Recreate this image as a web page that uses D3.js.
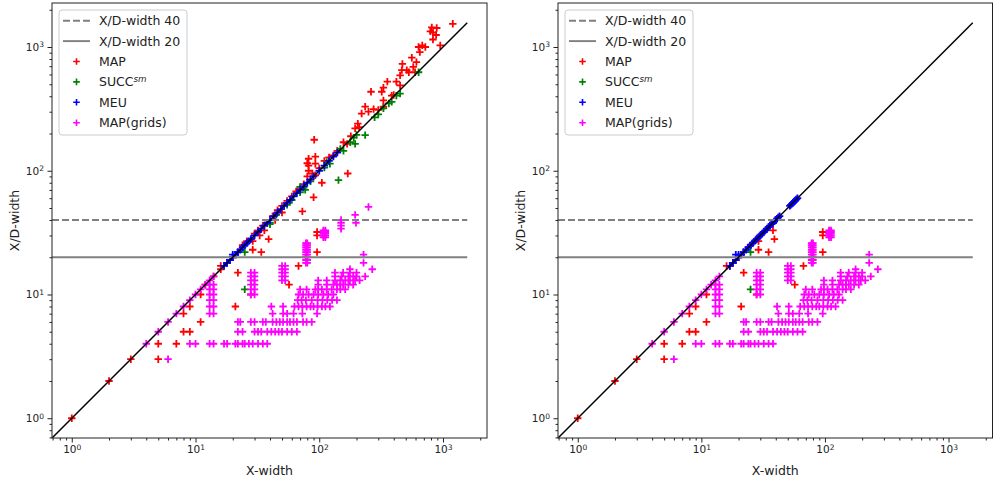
<!DOCTYPE html>
<html>
<head>
<meta charset="utf-8">
<script src="https://cdn.jsdelivr.net/npm/d3@7"></script>
<style>
  body { margin: 0; background: #fff; }
  svg { font-family: "DejaVu Sans", sans-serif; }
</style>
</head>
<body>
<script>
// ---- data ----
const decades = [1, 10, 100, 1000];
const thresholds = [40, 20];      // dashed, solid
const lineMax = 1570;             // end of the reference lines
const legendLabels = ["X/D-width 40", "X/D-width 20", "MAP", "SUCC", "MEU", "MAP(grids)"];

// left panel
const leftMap = [[1,1],[2,2],[3,3],[5,3],[5,4],[7,4],[8,5],[9,5],[8,7],[9,8],[11,6],[11,10],[12,12],[14,14],
  [16,16],[16,17],[18,18],[20,20],[21,8],[22,15],[22,22],[24,25],[26,27],[28,10],[28,28],[29,23],[29,27],
  [30,31],[32,33],[33,30],[34,22],[35,36],[36,33],[38,38],[39,28],[42,43],[44,40],[46,48],[50,52],[50,46],
  [55,57],[57,12],[60,62],[65,68],[68,17],[70,72],[73,47],[75,78],[80,90],[82,100],[82,110],[80,115],[82,125],
  [88,95],[90,61],[91,178],[93,92],[93,114],[93,130],[96,22],[96,30],[96,32],[100,105],[105,80],[110,120],
  [120,128],[130,133],[140,145],[157,170],[168,165],[170,95],[180,190],[195,220],[205,240],[210,225],[220,290],
  [235,330],[250,300],[262,435],[275,315],[300,310],[320,435],[330,330],[330,370],[330,470],[355,525],[385,405],
  [400,410],[420,525],[450,490],[450,590],[465,650],[470,730],[510,650],[530,625],[560,820],[575,690],[595,625],
  [610,755],[635,1000],[650,910],[680,1030],[720,1000],[790,1340],[812,1440],[830,1150],[830,1310],[880,1250],
  [890,1425],[950,1030],[1200,1540]];
const leftSucc = [[25,11],[25,22],[40,37],[40,38],[45,44],[55,53],[60,58],[70,67],[70,74],[75,73],[77,70],
  [85,82],[110,106],[115,117],[122,114],[143,84],[148,150],[157,145],[178,170],[190,185],[195,165],[200,195],
  [235,194],[280,270],[300,285],[330,320],[365,350],[385,360],[420,405],[450,420],[635,625]];
const leftMeu = [[17,17],[18,18],[19,19],[20,20],[20,21],[21,21],[22,22],[23,23],[24,24],[25,25],[26,26],
  [27,27],[28,28],[30,30],[32,32],[34,34],[36,36],[38,38],[40,40],[43,43],[46,46],[49,49],[52,52],[55,55],
  [58,58],[62,62],[66,66],[70,70],[75,75],[80,80],[85,85],[90,90],[100,100],[110,110],[120,120],[130,130],[140,140]];
const leftGridExtra = [[150,34],[150,36],[150,38],[150,40],[195,44],[198,38],[250,51]];

// right panel
const rightMap = [[1,1],[2,2],[3,3],[5,3],[5,4],[7,4],[8,5],[9,5],[8,7],[9,8],[11,6],[11,10],[16,17],[17,17],
  [18,18],[20,20],[21,8],[22,15],[22,22],[24,24],[26,26],[28,10],[28,28],[29,23],[29,27],[30,30],[32,32],
  [35,22],[35,35],[38,33],[39,28],[38,38],[40,40],[42,42],[57,12],[67,17],[96,22],[96,30],[96,32]];
const rightSucc = [[25,22],[25,11]];
const rightMeu = [[17,17],[18,18],[19,19],[19,21],[20,20],[20,21],[21,21],[22,22],[23,23],[24,24],[25,25],
  [26,26],[27,27],[28,28],[29,29],[30,30],[31,31],[32,32],[33,33],[34,34],[35,35],[36,36],[37,37],[38,38],
  [39,39],[40,40],[41,41],[42,42],[43,43],[52,52],[53,53],[54,54],[55,55],[56,56],[57,57],[58,58],[59,59],[60,60]];

// MAP(grids), same in both panels: rows [y, xs] and columns [x, ys]
const gridDiagonal = [4,5,6,7,8,9,10,11,12,13,14];
const gridRows = [
  [3, [6]],
  [4, [9,10,13,14,17,18,21,22,24,25,27,29,32,35,38]],
  [5, [22,24,30,32,34,38,41,44,47,50,55,60,66]],
  [6, [22,23,28,30,35,37,42,45,48,51,55,58,62,66,74,79,87]],
  [7, [42,51,55,62,73,96]],
  [8, [41,51,63,68,73,79,85,90,97,105,112,122]],
  [9, [67,72,78,87,97,106,116,127,139]],
  [10, [68,74,82,90,98,108,118,130]],
  [11, [70,79,93,98,105,115,126,139,148,162]],
  [12, [98,115,130,139,148,156,172,188]],
  [13, [98,115,134,148,162,177,195,212]],
  [14, [134,152,172,188,200,235]],
  [15, [134,156,177,200]],
  [16, [177,268]],
  [18, [228]],
  [21, [228]]
];
const gridColumns = [
  [13, [7,8,9,10,11,12]],
  [14, [7,8,9,10,11,12]],
  [28, [10,11,12,13,14,15]],
  [30, [10,11,12,13,14,15]],
  [50, [13,14,15,16,17]],
  [53, [13,14,15,16,17]],
  [78, [18,19,20,21,22,23,24,25,26]],
  [80, [18,19,20,21,22,23,24,25,26]],
  [108, [29,30,31,32,33]],
  [112, [29,30,31,32,33]]
];

// ---- layout ----
const width = 993, height = 482;
const plotSize = 435, plotTop = 3;
const colors = { map: "#ff0000", succ: "#008000", meu: "#0000ff", grid: "#ff00ff" };

const gridPoints = gridDiagonal.map(v => [v, v])
  .concat(gridRows.flatMap(([yv, xs]) => xs.map(xv => [xv, yv])))
  .concat(gridColumns.flatMap(([xv, ys]) => ys.map(yv => [xv, yv])));

// matplotlib-like 5% margins in log space around [1, lineMax]
const span = Math.log10(lineMax);
const lo = Math.pow(10, -0.05 * span), hi = Math.pow(10, span * 1.05);
const minorTicks = [0.1, 1, 10, 100, 1000].flatMap(d => [2,3,4,5,6,7,8,9].map(k => k * d))
  .filter(v => v > lo && v < hi);

const svg = d3.select("body").append("svg")
  .attr("width", width)
  .attr("height", height);

function plus(s) { return `M${-s},0H${s}M0,${-s}V${s}`; }

function drawPanel(x0, rangeRight, series) {
  const x = d3.scaleLog().domain([lo, hi]).range([x0, rangeRight]);
  const y = d3.scaleLog().domain([lo, hi]).range([plotTop + plotSize, plotTop]);
  const g = svg.append("g");

  const clipId = "clip" + x0;
  svg.append("clipPath").attr("id", clipId).append("rect")
    .attr("x", x0).attr("y", plotTop).attr("width", rangeRight - x0).attr("height", plotSize);
  const plot = g.append("g").attr("clip-path", `url(#${clipId})`);

  // scatter
  series.forEach(s => {
    plot.append("g").selectAll("path")
      .data(s.data)
      .join("path")
      .attr("d", plus(3.7))
      .attr("transform", d => `translate(${x(d[0])},${y(d[1])})`)
      .attr("fill", "none")
      .attr("stroke", s.color)
      .attr("stroke-width", 1.8);
  });

  // threshold lines
  thresholds.forEach((t, i) => {
    plot.append("line")
      .attr("x1", x(lo)).attr("x2", x(lineMax))
      .attr("y1", y(t)).attr("y2", y(t))
      .attr("stroke", "#808080")
      .attr("stroke-width", 1.9)
      .attr("stroke-dasharray", i === 0 ? "7,3" : null);
  });

  // diagonal
  plot.append("line")
    .attr("x1", x(lo)).attr("y1", y(lo))
    .attr("x2", x(lineMax)).attr("y2", y(lineMax))
    .attr("stroke", "#000")
    .attr("stroke-width", 1.5);

  // axes
  const gx = g.append("g").attr("transform", `translate(0,${plotTop + plotSize})`)
    .call(d3.axisBottom(x).tickValues(decades).tickSize(4.5).tickPadding(3.5).tickFormat(() => "10"));
  g.append("g").attr("transform", `translate(0,${plotTop + plotSize})`)
    .call(d3.axisBottom(x).tickValues(minorTicks).tickSize(2.5).tickFormat(""))
    .select(".domain").remove();
  const gy = g.append("g").attr("transform", `translate(${x0},0)`)
    .call(d3.axisLeft(y).tickValues(decades).tickSize(4.5).tickPadding(3.5).tickFormat(() => "10"));
  g.append("g").attr("transform", `translate(${x0},0)`)
    .call(d3.axisLeft(y).tickValues(minorTicks).tickSize(2.5).tickFormat(""))
    .select(".domain").remove();

  [gx, gy].forEach(a => {
    a.select(".domain").remove();
    a.attr("font-family", null).attr("font-size", 10.5);
    a.selectAll(".tick text").attr("fill", "#222")
      .append("tspan")
      .attr("dy", "-0.45em")
      .attr("font-size", "0.72em")
      .text(d => Math.round(Math.log10(d)));
  });
  g.selectAll(".tick line").attr("stroke", "#222");

  // frame
  g.append("rect")
    .attr("x", x0).attr("y", plotTop)
    .attr("width", rangeRight - x0).attr("height", plotSize)
    .attr("fill", "none").attr("stroke", "#222").attr("stroke-width", 1);

  // labels
  g.append("text")
    .attr("x", (x0 + rangeRight) / 2).attr("y", 475)
    .attr("text-anchor", "middle").attr("font-size", 12.5).attr("fill", "#222")
    .text("X-width");
  g.append("text")
    .attr("transform", `translate(${x0 - 33},${plotTop + plotSize / 2}) rotate(-90)`)
    .attr("text-anchor", "middle").attr("font-size", 12.5).attr("fill", "#222")
    .text("X/D-width");

  // legend
  const lg = g.append("g").attr("transform", `translate(${x0 + 7},10)`);
  lg.append("rect")
    .attr("width", 128).attr("height", 125).attr("rx", 3)
    .attr("fill", "#fff").attr("fill-opacity", 0.8)
    .attr("stroke", "#cccccc");
  const legendStyles = [
    { line: "7,3" }, { line: null },
    { color: colors.map }, { color: colors.succ }, { color: colors.meu }, { color: colors.grid }
  ];
  legendLabels.forEach((label, i) => {
    const cy = 10.7 + i * 20.4;
    const st = legendStyles[i];
    if (st.color) {
      lg.append("path").attr("d", plus(3.3))
        .attr("transform", `translate(17.5,${cy})`)
        .attr("fill", "none").attr("stroke", st.color).attr("stroke-width", 1.6);
    } else {
      lg.append("line").attr("x1", 4).attr("x2", 31).attr("y1", cy).attr("y2", cy)
        .attr("stroke", "#808080").attr("stroke-width", 1.9)
        .attr("stroke-dasharray", st.line);
    }
    const t = lg.append("text").attr("x", 40).attr("y", cy).attr("dy", "0.36em")
      .attr("font-size", 12.5).attr("fill", "#222").text(label);
    if (label === "SUCC") {
      t.append("tspan").attr("dy", "-0.5em").attr("font-size", "0.7em")
        .attr("font-style", "italic").text("sm");
    }
  });
}

drawPanel(52, 487, [
  { data: leftMap, color: colors.map },
  { data: leftSucc, color: colors.succ },
  { data: leftMeu, color: colors.meu },
  { data: gridPoints.concat(leftGridExtra), color: colors.grid }
]);

drawPanel(558, 992.5, [
  { data: rightMap, color: colors.map },
  { data: rightSucc, color: colors.succ },
  { data: rightMeu, color: colors.meu },
  { data: gridPoints, color: colors.grid }
]);
</script>
</body>
</html>
